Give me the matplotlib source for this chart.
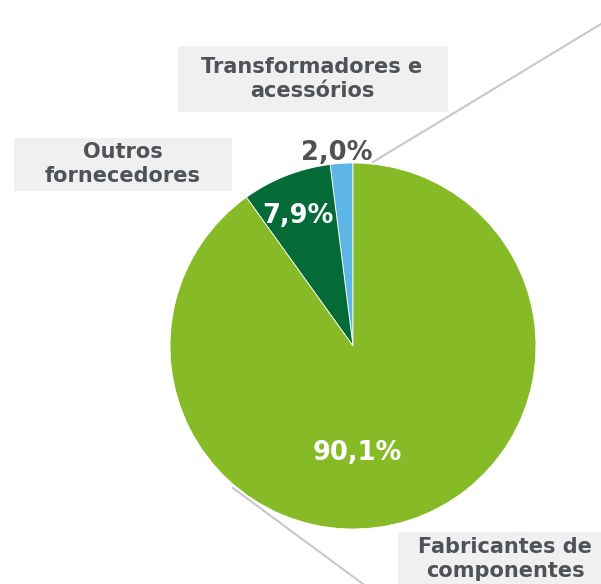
import matplotlib.pyplot as plt
from matplotlib.patches import Rectangle

categories = ["Transformadores e\nacessórios", "Outros\nfornecedores", "Fabricantes de\ncomponentes"]
shares = [2.0, 7.9, 90.1]
pct_labels = ["2,0%", "7,9%", "90,1%"]
colors = ["#5db6e5", "#046b38", "#86bb27"]

W, H = 601, 584
fig = plt.figure(figsize=(W / 100, H / 100), dpi=100)
ax = fig.add_axes([0, 0, 1, 1])


def py(y):
    # pixel row (from top) -> data y
    return H - y


center = (353, py(346))
ax.pie(shares, colors=colors, startangle=90, counterclock=True,
       radius=183, center=center, frame=True,
       wedgeprops=dict(linewidth=0.6, edgecolor="white"))
ax.set_xlim(0, W)
ax.set_ylim(0, H)
ax.set_aspect("equal")
ax.axis("off")

# leader lines
ax.plot([373, 601], [py(162), py(24)], color="#c8c8c8", lw=1.5, zorder=0)
ax.plot([233, 363], [py(488), py(584)], color="#c8c8c8", lw=1.5, zorder=0)

text_gray = "#4f5257"
# label boxes: (x0, y0, x1, y1) in pixels from top-left
boxes = [(178, 46, 448, 112), (14, 138, 232, 191), (398, 532, 601, 584)]
label_pos = [(312, 79), (123, 164), (505, 559)]
for name, (x0, y0, x1, y1), (x, y) in zip(categories, boxes, label_pos):
    ax.add_patch(Rectangle((x0, py(y1)), x1 - x0, y1 - y0,
                           facecolor="#f0f0f0", edgecolor="none", zorder=1))
    ax.text(x, py(y), name, ha="center", va="center", fontsize=15,
            fontweight="bold", color=text_gray, linespacing=1.2, zorder=2)

pct_pos = [(337, 153), (298, 216), (357, 453)]
pct_colors = [text_gray, "white", "white"]
for lab, (x, y), c in zip(pct_labels, pct_pos, pct_colors):
    ax.text(x, py(y), lab, ha="center", va="center", fontsize=18.5,
            fontweight="bold", color=c, zorder=3)

fig.savefig("out.png", dpi=100)
